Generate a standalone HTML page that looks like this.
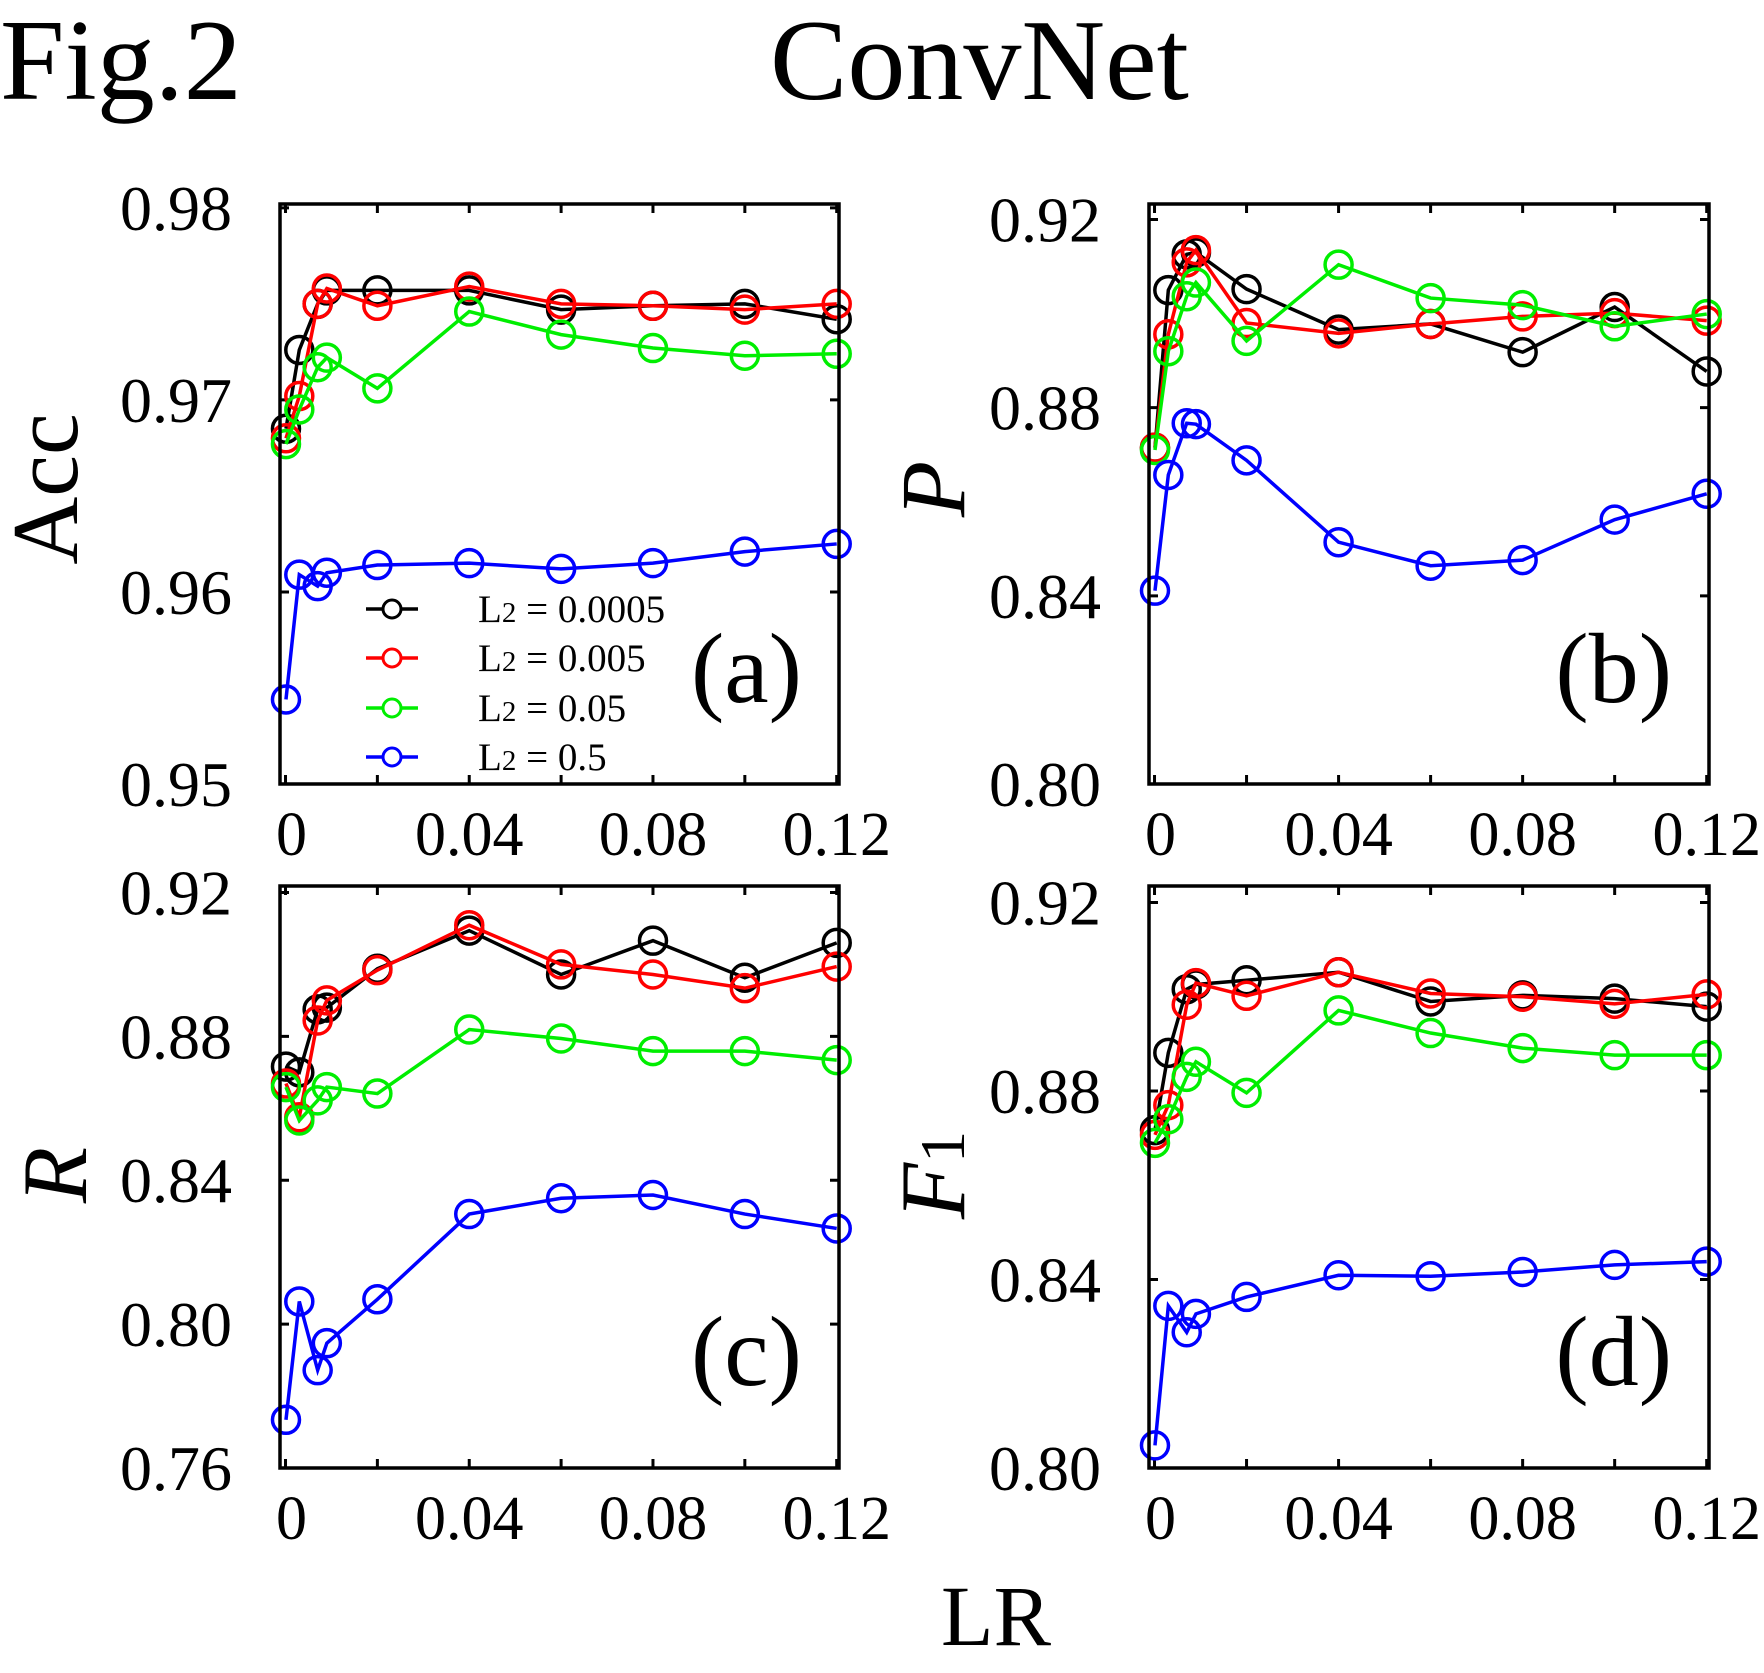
<!DOCTYPE html>
<html><head><meta charset="utf-8"><style>
html,body{margin:0;padding:0;background:#fff}
svg{display:block}
text{font-family:"Liberation Serif",serif;fill:#000}
</style></head><body>
<svg id="fig" width="1764" height="1673" viewBox="0 0 1764 1673" xmlns="http://www.w3.org/2000/svg">
<text x="0" y="99" font-size="116">Fig.2</text>
<text x="770" y="99" font-size="116">ConvNet</text>
<text x="996" y="1645" font-size="86" text-anchor="middle">LR</text>
</svg>
<script>
const lr = [0.0001, 0.003, 0.007, 0.009, 0.02, 0.04, 0.06, 0.08, 0.10, 0.12];
const seriesNames = ["L2 = 0.0005", "L2 = 0.005", "L2 = 0.05", "L2 = 0.5"];
const accBlack = [0.9685, 0.9726, 0.9750, 0.9757, 0.9757, 0.9757, 0.9747, 0.9749, 0.9750, 0.9742];
const accRed   = [0.9680, 0.9702, 0.9750, 0.9758, 0.9749, 0.9759, 0.9750, 0.9749, 0.9747, 0.9750];
const accGreen = [0.9677, 0.9695, 0.9717, 0.9722, 0.9706, 0.9746, 0.9734, 0.9727, 0.9723, 0.9724];
const accBlue  = [0.9544, 0.9609, 0.9603, 0.9610, 0.9614, 0.9615, 0.9612, 0.9615, 0.9621, 0.9625];
const pBlack = [0.8715, 0.9050, 0.9126, 0.9130, 0.9052, 0.8966, 0.8978, 0.8918, 0.9014, 0.8877];
const pRed   = [0.8715, 0.8956, 0.9109, 0.9135, 0.8980, 0.8958, 0.8978, 0.8994, 0.9001, 0.8985];
const pGreen = [0.8710, 0.8920, 0.9037, 0.9066, 0.8942, 0.9104, 0.9033, 0.9018, 0.8973, 0.8999];
const pBlue  = [0.8411, 0.8657, 0.8767, 0.8765, 0.8688, 0.8514, 0.8464, 0.8476, 0.8562, 0.8617];
const rBlack = [0.8716, 0.8700, 0.8875, 0.8880, 0.8988, 0.9094, 0.8972, 0.9066, 0.8963, 0.9060];
const rRed   = [0.8669, 0.8575, 0.8844, 0.8900, 0.8984, 0.9109, 0.9000, 0.8972, 0.8934, 0.8994];
const rGreen = [0.8659, 0.8566, 0.8622, 0.8659, 0.8641, 0.8819, 0.8794, 0.8759, 0.8759, 0.8734];
const rBlue  = [0.7734, 0.8063, 0.7872, 0.7947, 0.8069, 0.8306, 0.8350, 0.8359, 0.8306, 0.8266];
const fBlack = [0.8717, 0.8881, 0.9016, 0.9026, 0.9035, 0.9052, 0.8990, 0.9003, 0.8996, 0.8979];
const fRed   = [0.8707, 0.8770, 0.8983, 0.9029, 0.9002, 0.9052, 0.9007, 0.9000, 0.8985, 0.9005];
const fGreen = [0.8690, 0.8740, 0.8830, 0.8862, 0.8796, 0.8971, 0.8923, 0.8891, 0.8876, 0.8876];
const fBlue  = [0.8048, 0.8344, 0.8288, 0.8327, 0.8363, 0.8409, 0.8407, 0.8416, 0.8431, 0.8438];
const xTickLabels = ["0", "0.04", "0.08", "0.12"];
const xTickVals = [0, 0.04, 0.08, 0.12];
const xMinorTicks = [0, 0.02, 0.04, 0.06, 0.08, 0.10, 0.12];
const accTicks = [0.95, 0.96, 0.97, 0.98];
const accTickLabels = ["0.95", "0.96", "0.97", "0.98"];
const pTicks = [0.80, 0.84, 0.88, 0.92];
const pTickLabels = ["0.80", "0.84", "0.88", "0.92"];
const rTicks = [0.76, 0.80, 0.84, 0.88, 0.92];
const rTickLabels = ["0.76", "0.80", "0.84", "0.88", "0.92"];
const fTicks = [0.80, 0.84, 0.88, 0.92];
const fTickLabels = ["0.80", "0.84", "0.88", "0.92"];

const colors = ["#000000", "#ff0000", "#00ee00", "#0000ff"];
const NS = "http://www.w3.org/2000/svg";
const svg = document.getElementById("fig");
function mk(tag, attrs, parent) {
  const e = document.createElementNS(NS, tag);
  for (const k in attrs) e.setAttribute(k, attrs[k]);
  (parent || svg).appendChild(e);
  return e;
}
const panels = [
  {id:"a", L:280, R:839, T:204, B:784, y0:0.95, y1:0.9802, series:[accBlack,accRed,accGreen,accBlue], ticks:accTicks, labels:accTickLabels, yl:"Acc", ylx:47, yly:489, ital:false, legend:true},
  {id:"b", L:1149, R:1709, T:204, B:784, y0:0.80, y1:0.9233, series:[pBlack,pRed,pGreen,pBlue], ticks:pTicks, labels:pTickLabels, yl:"P", ylx:934, yly:489, ital:true},
  {id:"c", L:280, R:839, T:886, B:1468, y0:0.76, y1:0.9218, series:[rBlack,rRed,rGreen,rBlue], ticks:rTicks, labels:rTickLabels, yl:"R", ylx:56, yly:1175, ital:true},
  {id:"d", L:1149, R:1709, T:886, B:1468, y0:0.80, y1:0.9235, series:[fBlack,fRed,fGreen,fBlue], ticks:fTicks, labels:fTickLabels, yl:"F", ylx:934, yly:1175, ital:true, sub:"1"}
];
const xMin = -0.0012, xMax = 0.1205;
panels.forEach(p => {
  const g = mk("g", {});
  
  
  const sx = v => p.L + (v - xMin) / (xMax - xMin) * (p.R - p.L);
  const sy = v => p.B - (v - p.y0) / (p.y1 - p.y0) * (p.B - p.T);
  xMinorTicks.forEach(t => {
    const x = sx(t);
    const tk = mk("path", {d:`M${x},${p.B}v-9M${x},${p.T}v9`, stroke:"#000", "stroke-width":3}, g);
    
    
  });
  p.ticks.forEach((t, i) => {
    const y = sy(t);
    const tk = mk("path", {d:`M${p.L},${y}h9M${p.R},${y}h-9`, stroke:"#000", "stroke-width":3}, g);
    
    
    const lb = mk("text", {x:p.L - 48, y:y + 22, "font-size":64, "text-anchor":"end"}, g);
    lb.textContent = p.labels[i];
    
    
  });
  xTickVals.forEach((t, i) => {
    const lb = mk("text", {x:sx(t) + (i === 0 ? 6 : 0), y:p.B + 71, "font-size":62, "text-anchor":"middle"}, g);
    lb.textContent = xTickLabels[i];
    
    
  });
  p.series.forEach((vals, si) => {
    const pts = vals.map((v, i) => sx(lr[i]) + "," + sy(v)).join(" ");
    const line = mk("polyline", {points:pts, fill:"none", stroke:colors[si], "stroke-width":3.5}, g);
    
    
    vals.forEach((v, i) => {
      const c = mk("circle", {cx:sx(lr[i]), cy:sy(v), r:13.5, fill:"none", stroke:colors[si], "stroke-width":3.5}, g);
      
      
    });
  });
  const fr = mk("rect", {x:p.L, y:p.T, width:p.R - p.L, height:p.B - p.T, fill:"none", stroke:"#000", "stroke-width":3.5}, g);
  
  
  const pl = mk("text", {x:p.R - 37, y:p.id < "c" ? 702 : 1385, "font-size":100, "text-anchor":"end"}, g);
  pl.textContent = "(" + p.id + ")";
  
  
  const yl = mk("text", {x:0, y:0, "font-size":p.ital ? 92 : 94, "text-anchor":"middle", transform:`translate(${p.ylx + 30},${p.yly}) rotate(-90)`, "font-style":p.ital ? "italic" : "normal"}, g);
  yl.textContent = p.yl;
  if (p.sub) {
    const ts = mk("tspan", {"font-style":"normal", "font-size":64, dy:0}, yl);
    ts.textContent = p.sub;
  }
  
  
  if (p.legend) {
    const rows = [609, 658, 708, 757];
    seriesNames.forEach((n, i) => {
      const lg = mk("g", {}, g);
      
      
      mk("line", {x1:366, x2:418, y1:rows[i], y2:rows[i], stroke:colors[i], "stroke-width":3.5}, lg);
      mk("circle", {cx:392, cy:rows[i], r:9, fill:"#fff", stroke:colors[i], "stroke-width":3}, lg);
      const t = mk("text", {x:478, y:rows[i] + 13, "font-size":39}, lg);
      t.innerHTML = 'L<tspan font-size="29">2</tspan>' + n.slice(2);
    });
  }
});
</script>
</body></html>
